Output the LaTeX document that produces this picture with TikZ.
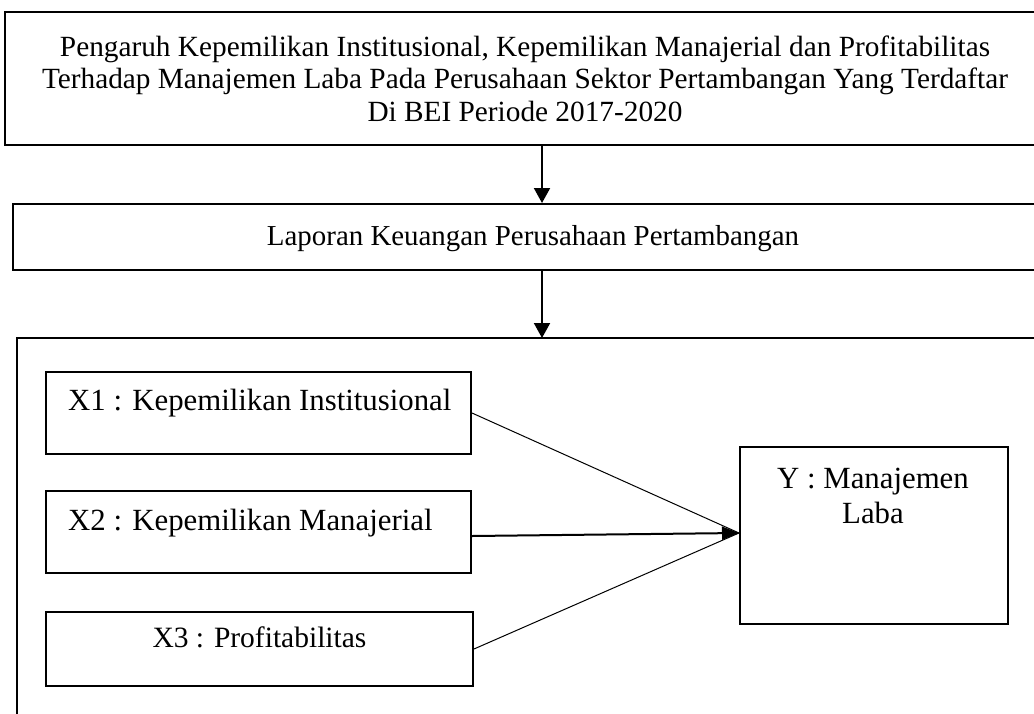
\documentclass[tikz,border=0pt]{standalone}
\usepackage{fontspec}
\setmainfont{Liberation Serif}
\usetikzlibrary{arrows.meta}
\begin{document}
\begin{tikzpicture}[x=1pt,y=-1pt,
  box/.style={draw=black,line width=2pt,rectangle,inner sep=0pt},
  txt/.style={inner sep=0pt,font=\fontsize{30.8}{35}\selectfont,align=center},
  toptxt/.style={inner sep=0pt,font=\fontsize{29.3}{32.5}\selectfont,align=center},
  flow/.style={line width=2pt,-{Triangle[length=15pt,width=16pt]}},
  link/.style={line width=1pt},
  thick link/.style={line width=2pt}]
\useasboundingbox (0,0) rectangle (1034,713);
% top box
\node[box,minimum width=1040pt,minimum height=133pt,toptxt] (top) at (525,78.5)
  {Pengaruh Kepemilikan Institusional, Kepemilikan Manajerial dan Profitabilitas\\
   Terhadap Manajemen Laba Pada Perusahaan Sektor Pertambangan Yang Terdaftar\\
   Di BEI Periode 2017-2020};
% second box
\node[box,minimum width=1040pt,minimum height=66pt] (lap) at (533,237) {};
\node[toptxt,font=\fontsize{28.9}{32.5}\selectfont] (laptxt) at (533,239) {Laporan Keuangan Perusahaan Pertambangan};
% big box
\draw[line width=2pt] (1040,338) -- (17,338) -- (17,720);
\coordinate (big) at (542,338);
% X boxes
\node[box,minimum width=425pt,minimum height=82pt] (x1) at (258.5,413) {};
\node[txt,anchor=west] (x1t) at (68,403) {X1 : Kepemilikan Institusional};
\node[box,minimum width=425pt,minimum height=82pt] (x2) at (258.5,532) {};
\node[txt,anchor=west] (x2t) at (68,523) {X2 : Kepemilikan Manajerial};
\node[box,minimum width=427pt,minimum height=74pt] (x3) at (259.5,649) {};
\node[txt,font=\fontsize{29.5}{35}\selectfont] (x3t) at (259.5,637) {X3 : Profitabilitas};
% Y box
\node[box,minimum width=268pt,minimum height=177pt] (y) at (874,535.5) {};
\node[txt] (yt) at (873,496) {Y : Manajemen\\Laba};
\coordinate (c) at (739,533);
% connectors
\draw[flow] (top.south -| big) -- (lap.north -| big);
\draw[flow] (lap.south -| big) -- (big);
\draw[link] (x1.east) -- (c);
\draw[link] (x3.east) -- (c);
\draw[thick link,-{Triangle[length=17pt,width=13pt]}] ([yshift=-4pt]x2.east) -- (c);
\end{tikzpicture}
\end{document}
